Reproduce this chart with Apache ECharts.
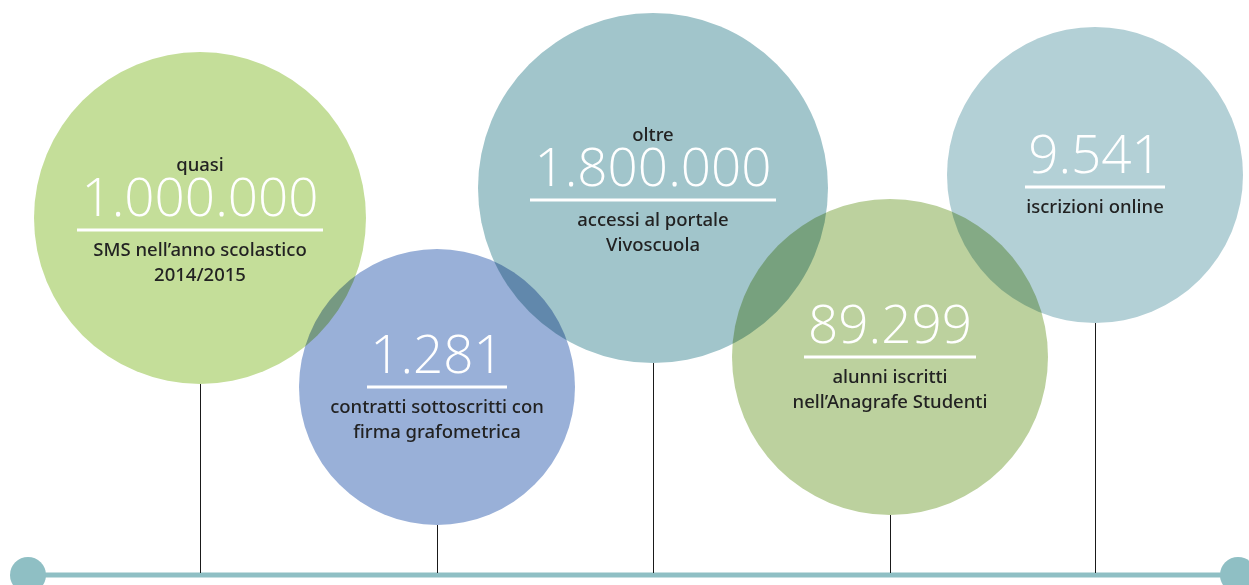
<!DOCTYPE html>
<html>
<head>
<meta charset="utf-8">
<title>Numeri</title>
<script src="https://cdn.jsdelivr.net/npm/echarts@6/dist/echarts.min.js"></script>
<style>
  html, body { margin: 0; padding: 0; background: #fff; }
  #chart { width: 1249px; height: 585px; }
</style>
</head>
<body>
<div id="chart"></div>
<script>
// testi dei cerchi
const prefixes = ['quasi', '', 'oltre', '', '']
const values = ['1.000.000', '1.281', '1.800.000', '89.299', '9.541']
const captions = [
    ['SMS nell\u2019anno scolastico', '2014/2015'],
    ['contratti sottoscritti con', 'firma grafometrica'],
    ['accessi al portale', 'Vivoscuola'],
    ['alunni iscritti', 'nell\u2019Anagrafe Studenti'],
    ['iscrizioni online']
]

// posizione dei cerchi (centro x, centro y, raggio) e riga del numero
const centersX = [200, 437, 653, 890, 1095]
const centersY = [218, 387, 188, 357, 175]
const radii = [166, 138, 175, 158, 148]
const ruleY = [230, 387, 200, 357, 187]
const ruleHalf = [123, 70, 123, 86, 70]
const colors = ['#c4de99', '#99b0d8', '#a1c5cb', '#bcd19e', '#b3d0d6']

// linea di base
const baseX = [28, 1238]
const baseY = 575

const circleData = centersX.map((x, i) => [x, centersY[i], radii[i]])
const textData = centersX.map((x, i) => [x, ruleY[i]])

const chart = echarts.init(document.getElementById('chart'))

const option = {
    animation: false,
    grid: {left: 0, right: 0, top: 0, bottom: 0},
    xAxis: {type: 'value', min: 0, max: 1249, show: false},
    yAxis: {type: 'value', min: 0, max: 585, inverse: true, show: false},
    series: [
        {
            // linea orizzontale con i pallini
            type: 'line',
            z: 1,
            data: baseX.map(x => [x, baseY]),
            symbol: 'circle',
            symbolSize: 36,
            itemStyle: {color: '#8fbfc4'},
            lineStyle: {color: '#8fbfc4', width: 5}
        },
        {
            // aste verticali
            type: 'custom',
            z: 2,
            data: circleData,
            renderItem: (params, api) => {
                const top = api.coord([api.value(0), api.value(1) + api.value(2)])
                const bottom = api.coord([api.value(0), baseY - 2])
                return {
                    type: 'line',
                    shape: {x1: Math.round(top[0]) + 0.5, y1: top[1], x2: Math.round(top[0]) + 0.5, y2: bottom[1]},
                    style: {stroke: '#1a1a1a', lineWidth: 1}
                }
            }
        },
        {
            // cerchi (moltiplicati dove si sovrappongono)
            type: 'custom',
            z: 3,
            blendMode: 'multiply',
            data: circleData,
            renderItem: (params, api) => {
                const c = api.coord([api.value(0), api.value(1)])
                const r = api.size([api.value(2), 0])[0]
                return {
                    type: 'circle',
                    shape: {cx: c[0], cy: c[1], r: r},
                    style: {fill: colors[params.dataIndex]}
                }
            }
        },
        {
            // testi
            type: 'custom',
            z: 4,
            data: textData,
            renderItem: (params, api) => {
                const i = params.dataIndex
                const p = api.coord([api.value(0), api.value(1)])
                const x = p[0], y = p[1]
                const children = []
                if (prefixes[i]) {
                    children.push({
                        type: 'text',
                        style: {
                            text: prefixes[i], x: x, y: y - 64,
                            align: 'center', verticalAlign: 'middle',
                            font: '500 18.5px "Noto Sans"', fill: '#222'
                        }
                    })
                }
                children.push({
                    type: 'text',
                    style: {
                        text: values[i], x: x, y: y - 29,
                        align: 'center', verticalAlign: 'middle',
                        font: '300 53px "Open Sans"', fill: '#fff'
                    }
                })
                children.push({
                    type: 'rect',
                    shape: {x: x - ruleHalf[i], y: y - 1.5, width: ruleHalf[i] * 2, height: 3},
                    style: {fill: '#fff'}
                })
                captions[i].forEach((line, k) => {
                    children.push({
                        type: 'text',
                        style: {
                            text: line, x: x, y: y + 21 + k * 25,
                            align: 'center', verticalAlign: 'middle',
                            font: '500 18.5px "Noto Sans"', fill: '#222'
                        }
                    })
                })
                return {type: 'group', children: children}
            }
        }
    ]
}

chart.setOption(option)
</script>
</body>
</html>
